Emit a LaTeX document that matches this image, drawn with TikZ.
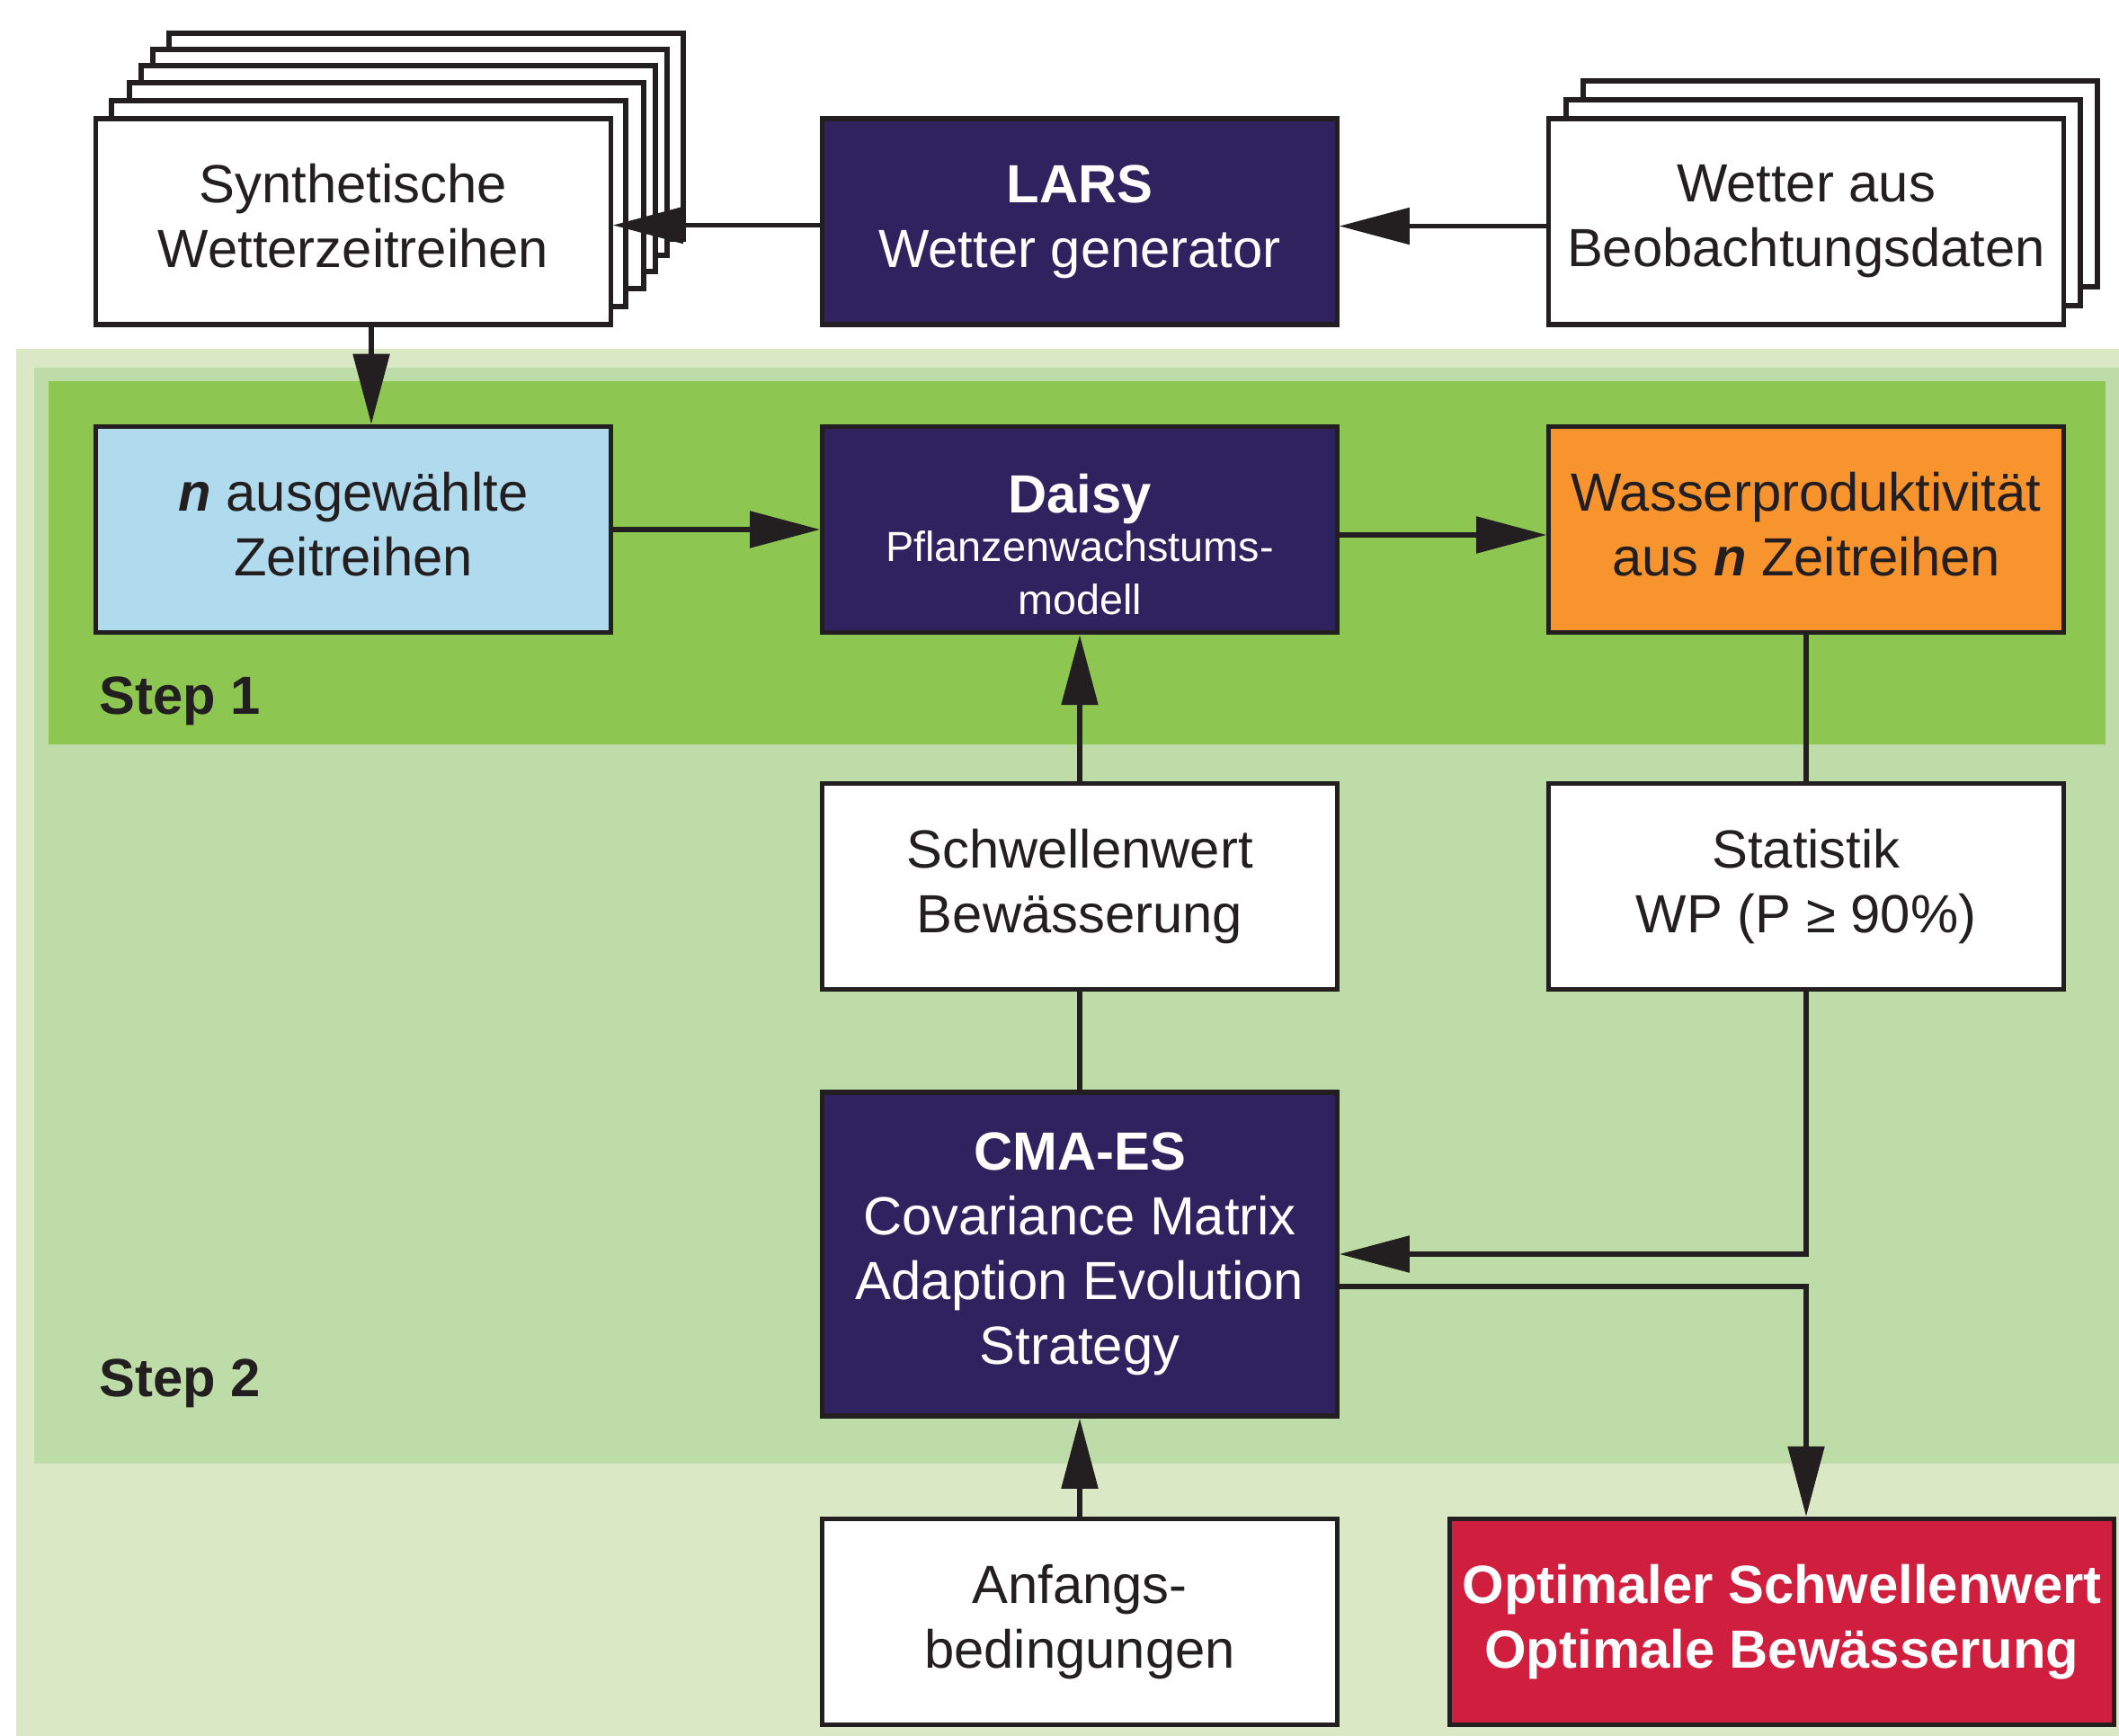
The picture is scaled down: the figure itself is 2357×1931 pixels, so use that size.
\documentclass[tikz,border=0pt]{standalone}
\usepackage{fontspec}
\setmainfont{Liberation Sans}
\usetikzlibrary{arrows.meta}
\definecolor{lc}{RGB}{35,31,32}
\definecolor{navy}{RGB}{46,35,94}
\definecolor{lblue}{RGB}{176,218,237}
\definecolor{orng}{RGB}{247,148,45}
\definecolor{rred}{RGB}{207,30,62}
\definecolor{gA}{RGB}{219,232,198}
\definecolor{gB}{RGB}{190,220,167}
\definecolor{gC}{RGB}{141,199,82}
\newcommand{\dpfix}{\rule[-3.6pt]{0pt}{3.6pt}}
\begin{document}
\begin{tikzpicture}[x=0.01cm,y=-0.01cm,
  box/.style={draw=lc, line width=1.5pt, fill=white, minimum width=5.72cm, minimum height=2.29cm, inner sep=0pt, align=center, font=\fontsize{17}{20.5}\selectfont, text=lc},
  darkbox/.style={box, fill=navy, text=white},
  stackbox/.style={draw=lc, line width=1.5pt, fill=white},
  conn/.style={draw=lc, line width=1.5pt},
  arr/.style={conn, -{Triangle[length=0.78cm,width=0.40cm]}},
  steplbl/.style={anchor=west, inner sep=0pt, font=\bfseries\fontsize{17}{20}\selectfont, text=lc}]
\useasboundingbox (0,0) rectangle (2357,1931);
\fill[white] (0,0) rectangle (2357,1931);
\fill[gA] (18,388) rectangle (2357,1931);
\fill[gB] (38,409) rectangle (2357,1628);
\fill[gC] (54,424) rectangle (2342,828);
% stacked background sheets
\foreach \dx/\dy in {81/-95,63/-77,50/-59,37/-40,17/-20}
  \draw[stackbox] (107+\dx,132+\dy) rectangle ++(572,229);
\foreach \dx/\dy in {38/-42,19/-21}
  \draw[stackbox] (1723+\dx,132+\dy) rectangle ++(572,229);
% nodes
\node[box] (synth) at (393,246.5) {Synthetische\\Wetterzeitreihen\dpfix};
\node[darkbox] (lars) at (1201,246.5) {\textbf{LARS}\\Wetter generator};
\node[box] (obs) at (2009,246.5) {Wetter aus\\Beobachtungsdaten};
\node[box, fill=lblue] (nsel) at (393,589) {\textbf{\textit{n}} ausgewählte\\Zeitreihen\dpfix};
\node[darkbox] (daisy) at (1201,589) {\textbf{Daisy}\rule{0pt}{21.7pt}\\[-5pt]\fontsize{13.3}{16}\selectfont Pflanzenwachstums-\\[-3.9pt]\fontsize{13.3}{16}\selectfont modell};
\node[box, fill=orng] (wp) at (2009,589) {Wasserproduktivität\\aus \textbf{\textit{n}} Zeitreihen\dpfix};
\node[box] (schw) at (1201,986) {Schwellenwert\\Bewässerung};
\node[box] (stat) at (2009,986) {Statistik\\WP (P ≥ 90\%)};
\node[darkbox, minimum height=3.60cm] (cma) at (1201,1395) {\textbf{CMA-ES}\\Covariance Matrix\\Adaption Evolution\\Strategy};
\node[box] (anf) at (1201,1804) {Anfangs-\\bedingungen};
\node[box, fill=rred, text=white, minimum width=7.38cm, font=\bfseries\fontsize{17}{20.5}\selectfont] (opt) at (1982,1804) {Optimaler Schwellenwert\\Optimale Bewässerung};
\node[steplbl] (step1) at (110,780) {Step 1};
\node[steplbl] (step2) at (110,1539) {Step 2};
% connectors
\draw[arr] ([yshift=-0.04cm]lars.west) -- ([yshift=-0.04cm]synth.east);
\draw[arr] ([yshift=-0.05cm]obs.west) -- ([yshift=-0.05cm]lars.east);
\draw[arr] ([xshift=0.2cm]synth.south) -- ([xshift=0.2cm]nsel.north);
\draw[arr] (nsel.east) -- (daisy.west);
\draw[arr] ([yshift=-0.06cm]daisy.east) -- ([yshift=-0.06cm]wp.west);
\draw[arr] (schw.north) -- (daisy.south);
\draw[conn] (cma.north) -- (schw.south);
\draw[conn] (wp.south) -- (stat.north);
\draw[arr] (stat.south) |- (cma.east);
\draw[arr] ([yshift=-0.36cm]cma.east) -| (opt.north -| stat.south);
\draw[arr] (anf.north) -- (cma.south);
\end{tikzpicture}
\end{document}
